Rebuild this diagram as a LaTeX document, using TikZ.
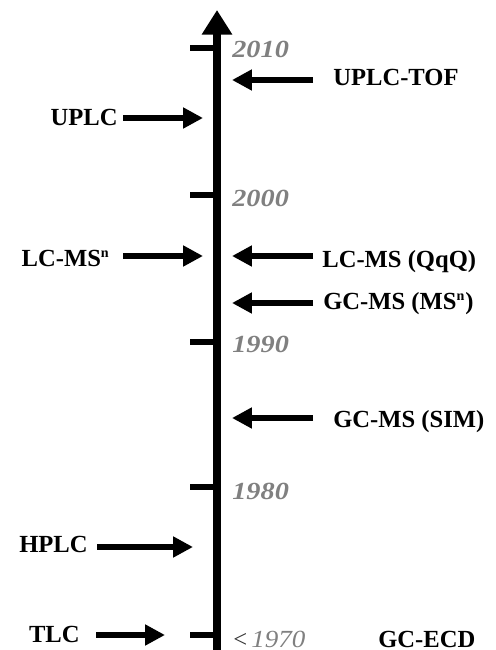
\documentclass[tikz,border=0pt]{standalone}
\usepackage{fontspec}
\setmainfont{Liberation Serif}
\usetikzlibrary{arrows.meta}
\begin{document}
\begin{tikzpicture}[x=0.02cm,y=0.02cm,
  lbl/.style={font=\fontsize{14}{16}\selectfont\bfseries, inner sep=0pt},
  yr/.style={font=\fontsize{14}{16}\selectfont\bfseries\itshape, text=black!50, inner sep=0pt, anchor=base west},
  arr/.style={line width=3.4pt, -{Triangle[length=11.3pt,width=11.3pt]}},
  tickmark/.style={line width=3.4pt},
  axisline/.style={line width=4pt, -{Triangle[length=14pt,width=16.5pt]}}]
\useasboundingbox (0,0) rectangle (495,650);

% time axis
\coordinate (axB) at (217,0);
\coordinate (axT) at (217,640);
\draw[axisline] (axB) -- (axT);

% decade ticks and year labels
\foreach \n/\y/\b/\t in {a/602/592/2010, b/455/443/2000, c/308/297/1990, d/163/150/1980}{
  \coordinate (tk\n) at (190,\y);
  \draw[tickmark] (tk\n) -- (tk\n -| axB);
  \node[yr] (yr\n) at (232,\b) {\scalebox{1.15}[1]{\t}};
}
\coordinate (tke) at (190,15);
\draw[tickmark] (tke) -- (tke -| axB);
\node[yr, text=black!80, font=\fontsize{14}{16}\selectfont] (yre) at (233,3)
  {<\,\scalebox{1.1}[1]{\textit{\textcolor{black!50}{1970}}}};

% techniques introduced from the right
\node[lbl, anchor=base west] (uplctof) at (333,564) {UPLC-TOF};
\node[lbl, anchor=base west] (lcqqq) at (322,382) {LC-MS (QqQ)};
\node[lbl, anchor=base west] (gcmsn) at (323,340) {GC-MS (MS\textsuperscript{\footnotesize n})};
\node[lbl, anchor=base west] (gcsim) at (333,222) {GC-MS (SIM)};
\node[lbl, anchor=base west] (gcecd) at (378,3) {GC-ECD};

\coordinate (t1) at (313,570); \coordinate (h1) at (232,570);
\coordinate (t2) at (313,394); \coordinate (h2) at (232,394);
\coordinate (t3) at (313,347); \coordinate (h3) at (232,347);
\coordinate (t4) at (313,232); \coordinate (h4) at (232,232);
\draw[arr] (t1) -- (h1);
\draw[arr] (t2) -- (h2);
\draw[arr] (t3) -- (h3);
\draw[arr] (t4) -- (h4);

% techniques introduced from the left
\node[lbl, anchor=base east] (uplc) at (118,524) {UPLC};
\node[lbl, anchor=base east] (lcmsn) at (110,383) {LC-MS\textsuperscript{\footnotesize n}};
\node[lbl, anchor=base east] (hplc) at (88,97) {HPLC};
\node[lbl, anchor=base east] (tlc) at (80,8) {TLC};

\coordinate (t5) at (123,532); \coordinate (h5) at (203,532);
\coordinate (t6) at (123,394); \coordinate (h6) at (203,394);
\coordinate (t7) at (97,103);  \coordinate (h7) at (193,103);
\coordinate (t8) at (96,15);   \coordinate (h8) at (165,15);
\draw[arr] (t5) -- (h5);
\draw[arr] (t6) -- (h6);
\draw[arr] (t7) -- (h7);
\draw[arr] (t8) -- (h8);
\end{tikzpicture}
\end{document}
